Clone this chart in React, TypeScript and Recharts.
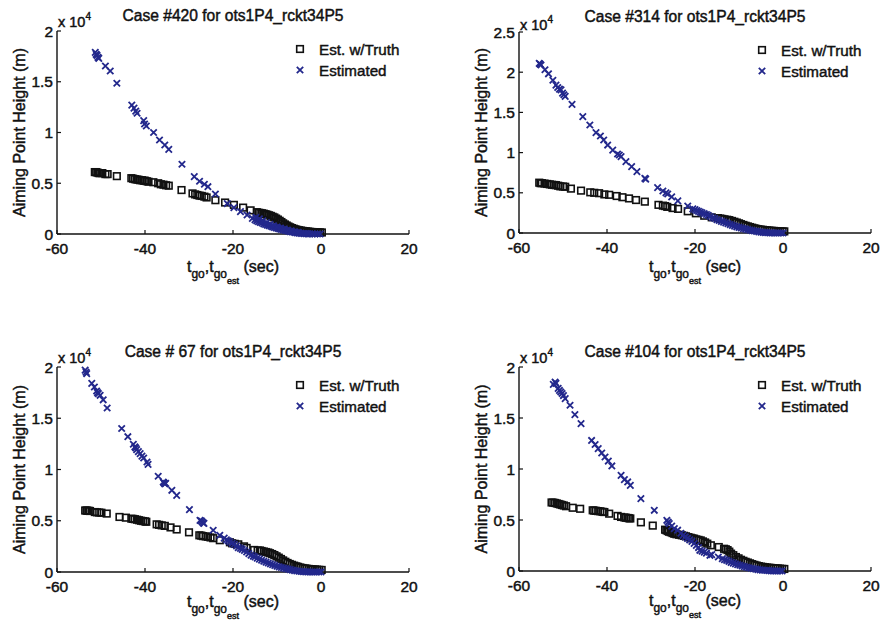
import { ScatterChart, Scatter, XAxis, YAxis } from 'recharts';

// time-to-go (s) vs aiming point height, heights in units of 1e4 m (axis shows "x 10^4")
const X_TICKS = [-60, -40, -20, 0, 20];
const Y_TICKS_20 = [0, 0.5, 1, 1.5, 2];
const Y_TICKS_25 = [0, 0.5, 1, 1.5, 2, 2.5];

const case420Truth = [
  [-51.4, 0.61], [-51.1, 0.61], [-50.8, 0.605], [-50.5, 0.6], [-50.2, 0.6], [-49.7, 0.6], [-49.0, 0.59], [-48.5, 0.59],
  [-46.4, 0.57], [-43.1, 0.55], [-42.7, 0.545], [-42.3, 0.54], [-41.9, 0.537], [-41.5, 0.535], [-41.1, 0.53], [-40.7, 0.53],
  [-40.3, 0.525], [-40.0, 0.525], [-39.6, 0.52], [-39.2, 0.515], [-38.1, 0.51], [-37.0, 0.5], [-36.4, 0.49], [-35.8, 0.486],
  [-35.2, 0.48], [-34.6, 0.476], [-31.7, 0.433], [-29.2, 0.4], [-28.6, 0.39], [-28.1, 0.384], [-27.6, 0.378], [-27.1, 0.375],
  [-26.5, 0.368], [-26.0, 0.36], [-24.0, 0.333], [-21.8, 0.31], [-19.8, 0.287], [-17.7, 0.26], [-16.0, 0.233], [-14.6, 0.215],
  [-14.2, 0.21], [-13.8, 0.207], [-13.4, 0.204], [-13.0, 0.2], [-12.6, 0.195], [-12.2, 0.19], [-11.8, 0.184], [-11.4, 0.178],
  [-11.0, 0.17], [-10.6, 0.163], [-10.2, 0.152], [-9.8, 0.142], [-9.4, 0.13], [-9.0, 0.118], [-8.6, 0.105], [-8.2, 0.094],
  [-7.8, 0.084], [-7.4, 0.074], [-7.0, 0.066], [-6.6, 0.058], [-6.2, 0.052], [-5.8, 0.046], [-5.4, 0.041], [-5.0, 0.037],
  [-4.6, 0.034], [-4.2, 0.031], [-3.8, 0.028], [-3.4, 0.026], [-3.0, 0.024], [-2.6, 0.022], [-2.2, 0.02], [-1.8, 0.019],
  [-1.4, 0.018], [-1.0, 0.017], [-0.6, 0.016], [-0.2, 0.016], [0.2, 0.015],
];
const case420Est = [
  [-51.3, 1.79], [-51.1, 1.77], [-50.9, 1.76], [-50.7, 1.74], [-50.5, 1.73], [-49.0, 1.655], [-47.9, 1.606], [-46.4, 1.485],
  [-43.0, 1.27], [-42.5, 1.24], [-42.1, 1.21], [-41.8, 1.19], [-40.3, 1.117], [-40.1, 1.084], [-39.7, 1.064], [-38.05, 1.0],
  [-36.7, 0.926], [-35.5, 0.877], [-34.6, 0.834], [-31.6, 0.687], [-28.8, 0.565], [-27.6, 0.52], [-26.5, 0.49], [-25.7, 0.466],
  [-24.0, 0.394], [-21.3, 0.3], [-19.8, 0.26], [-18.3, 0.22], [-16.8, 0.187], [-15.6, 0.154], [-15.0, 0.14], [-14.6, 0.13],
  [-14.2, 0.122], [-13.8, 0.115], [-13.4, 0.108], [-13.0, 0.1], [-12.6, 0.094], [-12.2, 0.088], [-11.8, 0.082], [-11.4, 0.076],
  [-11.0, 0.07], [-10.6, 0.065], [-10.2, 0.06], [-9.8, 0.055], [-9.4, 0.05], [-9.0, 0.045], [-8.6, 0.04], [-8.2, 0.036],
  [-7.8, 0.032], [-7.4, 0.028], [-7.0, 0.024], [-6.6, 0.02], [-6.2, 0.017], [-5.8, 0.014], [-5.4, 0.011], [-5.0, 0.009],
  [-4.6, 0.007], [-4.2, 0.005], [-3.8, 0.004], [-3.4, 0.003], [-3.0, 0.002], [-2.6, 0.001], [-2.0, 0.001], [-1.4, 0],
  [-0.8, 0], [-0.2, 0], [-14.8, 0.165], [-14.0, 0.15], [-13.2, 0.13], [-12.4, 0.112], [-11.6, 0.095], [-10.8, 0.08],
  [-10.0, 0.068], [-9.2, 0.058], [-8.4, 0.048], [-7.6, 0.038], [-6.8, 0.03], [-6.0, 0.022], [-5.2, 0.016],
];

const case314Truth = [
  [-55.4, 0.626], [-55.1, 0.62], [-54.8, 0.62], [-54.2, 0.615], [-53.6, 0.61], [-53.0, 0.605], [-52.5, 0.6], [-52.0, 0.597],
  [-51.6, 0.595], [-51.1, 0.588], [-50.6, 0.58], [-50.0, 0.578], [-49.5, 0.575], [-48.2, 0.552], [-45.9, 0.527], [-43.8, 0.506],
  [-42.9, 0.5], [-41.8, 0.495], [-40.6, 0.48], [-39.5, 0.475], [-37.8, 0.46], [-36.5, 0.445], [-35.0, 0.43], [-33.4, 0.41],
  [-31.4, 0.39], [-28.3, 0.35], [-27.3, 0.34], [-26.8, 0.335], [-26.3, 0.325], [-25.1, 0.31], [-23.85, 0.3], [-21.65, 0.27],
  [-19.8, 0.245], [-17.9, 0.215], [-16.2, 0.195], [-14.8, 0.185], [-14.25, 0.18], [-13.8, 0.175], [-13.3, 0.17], [-12.7, 0.165],
  [-12.2, 0.16], [-11.6, 0.15], [-11.05, 0.14], [-10.5, 0.13], [-10.0, 0.12], [-9.55, 0.11], [-9.0, 0.1], [-8.5, 0.09],
  [-8.0, 0.082], [-7.5, 0.074], [-7.0, 0.066], [-6.5, 0.058], [-6.1, 0.052], [-5.6, 0.047], [-5.1, 0.043], [-4.6, 0.04],
  [-4.1, 0.036], [-3.6, 0.033], [-3.1, 0.03], [-2.6, 0.028], [-2.1, 0.026], [-1.6, 0.024], [-1.1, 0.022], [-0.6, 0.021],
  [-0.1, 0.02], [0.3, 0.02],
];
const case314Est = [
  [-55.4, 2.11], [-55.2, 2.1], [-55.0, 2.09], [-54.1, 2.03], [-53.3, 1.98], [-52.3, 1.9], [-51.6, 1.84], [-51.2, 1.81],
  [-50.8, 1.79], [-50.45, 1.78], [-50.1, 1.74], [-49.8, 1.72], [-49.5, 1.7], [-47.95, 1.6], [-45.5, 1.447], [-43.9, 1.343],
  [-42.5, 1.248], [-41.5, 1.206], [-40.75, 1.157], [-39.85, 1.094], [-38.7, 1.03], [-37.6, 0.983], [-37.2, 0.97], [-36.8, 0.95],
  [-35.7, 0.887], [-34.4, 0.825], [-33.2, 0.763], [-31.4, 0.68], [-31.2, 0.67], [-28.5, 0.564], [-27.3, 0.522], [-26.6, 0.5],
  [-26.2, 0.485], [-25.3, 0.45], [-23.9, 0.4], [-21.65, 0.336], [-20.5, 0.3], [-20.0, 0.29], [-19.6, 0.28], [-19.2, 0.27],
  [-18.8, 0.26], [-18.4, 0.25], [-17.9, 0.24], [-17.4, 0.23], [-17.0, 0.22], [-16.5, 0.205], [-16.0, 0.19], [-15.5, 0.18],
  [-15.0, 0.165], [-14.5, 0.155], [-14.0, 0.145], [-13.5, 0.135], [-13.0, 0.125], [-12.5, 0.115], [-12.0, 0.105], [-11.5, 0.095],
  [-11.0, 0.085], [-10.5, 0.077], [-10.0, 0.07], [-9.5, 0.062], [-9.0, 0.055], [-8.5, 0.048], [-8.0, 0.042], [-7.5, 0.036],
  [-7.0, 0.03], [-6.5, 0.025], [-6.0, 0.02], [-5.5, 0.015], [-5.0, 0.011], [-4.5, 0.008], [-4.0, 0.005], [-3.5, 0.003],
  [-3.0, 0.002], [-2.5, 0.001], [-2.0, 0], [-1.5, 0], [-1.0, 0], [-0.5, 0], [0, 0],
];

const case67Truth = [
  [-53.6, 0.6], [-53.3, 0.6], [-53.1, 0.597], [-52.8, 0.597], [-52.5, 0.595], [-51.4, 0.585], [-50.9, 0.582], [-50.4, 0.58],
  [-49.9, 0.578], [-48.7, 0.57], [-45.8, 0.537], [-44.35, 0.53], [-43.1, 0.52], [-42.7, 0.518], [-42.3, 0.515], [-41.8, 0.51],
  [-41.35, 0.505], [-40.9, 0.5], [-40.45, 0.497], [-40.0, 0.494], [-39.7, 0.49], [-37.35, 0.465], [-36.8, 0.46], [-36.2, 0.455],
  [-35.5, 0.45], [-34.2, 0.435], [-32.8, 0.415], [-30.0, 0.387], [-27.65, 0.358], [-27.2, 0.355], [-26.8, 0.35], [-26.2, 0.347],
  [-25.7, 0.343], [-25.1, 0.337], [-24.5, 0.33], [-23.0, 0.31], [-20.7, 0.29], [-20.2, 0.28], [-19.6, 0.275], [-18.8, 0.27],
  [-17.5, 0.25], [-16.9, 0.235], [-15.2, 0.215], [-14.4, 0.21], [-13.9, 0.21], [-13.5, 0.205], [-13.0, 0.2], [-12.5, 0.195],
  [-12.0, 0.19], [-11.6, 0.183], [-11.1, 0.175], [-10.6, 0.165], [-10.1, 0.153], [-9.6, 0.14], [-9.1, 0.127], [-8.6, 0.113],
  [-8.1, 0.1], [-7.6, 0.088], [-7.1, 0.078], [-6.6, 0.07], [-6.1, 0.062], [-5.6, 0.055], [-5.2, 0.05], [-4.7, 0.044],
  [-4.2, 0.039], [-3.7, 0.035], [-3.3, 0.033], [-2.8, 0.03], [-2.3, 0.028], [-1.9, 0.026], [-1.4, 0.025], [-0.9, 0.023],
  [-0.4, 0.021], [0.15, 0.02],
];
const case67Est = [
  [-53.6, 1.97], [-53.4, 1.95], [-53.25, 1.935], [-52.1, 1.84], [-51.5, 1.805], [-51.0, 1.766], [-50.8, 1.75], [-50.6, 1.74],
  [-50.2, 1.724], [-49.5, 1.68], [-48.6, 1.6], [-45.3, 1.4], [-43.9, 1.32], [-42.65, 1.246], [-42.3, 1.22], [-42.1, 1.21],
  [-41.9, 1.194], [-41.5, 1.175], [-41.1, 1.155], [-40.7, 1.13], [-40.3, 1.112], [-39.55, 1.073], [-39.3, 1.05], [-37.0, 0.934],
  [-35.85, 0.878], [-35.7, 0.87], [-35.5, 0.86], [-35.3, 0.865], [-33.9, 0.797], [-32.8, 0.748], [-29.9, 0.609], [-27.5, 0.504],
  [-27.2, 0.5], [-27.0, 0.49], [-26.8, 0.48], [-26.6, 0.475], [-24.5, 0.407], [-23.0, 0.358], [-22.0, 0.33], [-21.5, 0.315],
  [-21.1, 0.305], [-20.7, 0.293], [-20.2, 0.28], [-19.7, 0.27], [-19.2, 0.255], [-18.8, 0.238], [-18.3, 0.23], [-17.9, 0.22],
  [-17.4, 0.21], [-16.9, 0.195], [-16.4, 0.18], [-15.9, 0.165], [-15.4, 0.155], [-15.0, 0.146], [-14.5, 0.135], [-14.0, 0.125],
  [-13.5, 0.115], [-13.0, 0.105], [-12.5, 0.096], [-12.0, 0.088], [-11.5, 0.08], [-11.0, 0.072], [-10.5, 0.064], [-10.0, 0.056],
  [-9.5, 0.05], [-9.0, 0.044], [-8.5, 0.038], [-8.0, 0.033], [-7.5, 0.028], [-7.0, 0.023], [-6.5, 0.018], [-6.0, 0.014],
  [-5.5, 0.01], [-5.0, 0.007], [-4.5, 0.005], [-4.0, 0.003], [-3.5, 0.002], [-3.0, 0.001], [-2.5, 0], [-2.0, 0],
  [-1.5, 0], [-1.0, 0], [-0.5, 0], [0, 0],
];

const case104Truth = [
  [-52.6, 0.672], [-52.2, 0.67], [-51.8, 0.667], [-51.4, 0.662], [-51.0, 0.657], [-50.6, 0.652], [-50.2, 0.647], [-49.8, 0.642],
  [-49.3, 0.635], [-47.8, 0.62], [-46.1, 0.61], [-43.25, 0.595], [-42.9, 0.592], [-42.5, 0.59], [-42.0, 0.587], [-41.5, 0.585],
  [-41.0, 0.58], [-40.6, 0.578], [-39.5, 0.562], [-37.6, 0.54], [-36.8, 0.53], [-36.05, 0.525], [-35.7, 0.522], [-35.3, 0.52],
  [-35.0, 0.517], [-34.7, 0.515], [-32.3, 0.477], [-29.6, 0.445], [-26.8, 0.405], [-26.5, 0.4], [-26.2, 0.392], [-25.9, 0.385],
  [-25.5, 0.38], [-25.1, 0.372], [-24.7, 0.365], [-24.2, 0.36], [-23.6, 0.355], [-23.0, 0.35], [-22.5, 0.345], [-22.05, 0.34],
  [-21.5, 0.332], [-21.0, 0.326], [-20.6, 0.32], [-20.2, 0.317], [-19.7, 0.31], [-19.2, 0.305], [-18.7, 0.3], [-18.2, 0.29],
  [-17.7, 0.28], [-17.2, 0.268], [-16.4, 0.252], [-14.6, 0.235], [-13.4, 0.218], [-13.0, 0.213], [-12.6, 0.205], [-12.2, 0.19],
  [-11.8, 0.17], [-11.3, 0.155], [-10.7, 0.137], [-10.1, 0.124], [-9.55, 0.11], [-9.0, 0.1], [-8.5, 0.09], [-8.0, 0.083],
  [-7.5, 0.075], [-7.0, 0.067], [-6.5, 0.06], [-6.0, 0.054], [-5.5, 0.048], [-5.0, 0.043], [-4.6, 0.04], [-4.1, 0.037],
  [-3.6, 0.034], [-3.1, 0.032], [-2.7, 0.03], [-2.2, 0.028], [-1.7, 0.026], [-1.2, 0.025], [-0.7, 0.023], [-0.2, 0.021],
  [0.3, 0.02],
];
const case104Est = [
  [-52.2, 1.83], [-51.8, 1.853], [-51.6, 1.84], [-51.1, 1.79], [-50.8, 1.77], [-50.5, 1.755], [-50.2, 1.74], [-49.9, 1.72],
  [-49.5, 1.69], [-48.4, 1.625], [-47.3, 1.533], [-45.9, 1.445], [-43.5, 1.28], [-42.7, 1.24], [-42.0, 1.2], [-41.2, 1.157],
  [-40.45, 1.118], [-39.7, 1.078], [-38.9, 1.03], [-36.8, 0.938], [-36.05, 0.896], [-35.3, 0.873], [-34.7, 0.84], [-32.3, 0.71],
  [-29.25, 0.595], [-26.4, 0.497], [-26.1, 0.48], [-25.85, 0.464], [-25.3, 0.44], [-24.7, 0.415], [-23.95, 0.4], [-23.2, 0.37],
  [-22.7, 0.35], [-22.2, 0.335], [-21.7, 0.32], [-21.2, 0.305], [-20.7, 0.29], [-20.2, 0.27], [-19.7, 0.25], [-19.2, 0.23],
  [-18.9, 0.203], [-18.4, 0.195], [-17.9, 0.185], [-17.4, 0.175], [-16.6, 0.154], [-16.2, 0.16], [-14.7, 0.137], [-13.8, 0.12],
  [-13.3, 0.112], [-12.8, 0.105], [-12.3, 0.095], [-11.8, 0.085], [-11.3, 0.077], [-10.8, 0.07], [-10.3, 0.063], [-9.8, 0.056],
  [-9.3, 0.049], [-8.8, 0.043], [-8.3, 0.037], [-7.8, 0.032], [-7.3, 0.027], [-6.75, 0.023], [-6.2, 0.018], [-5.7, 0.014],
  [-5.2, 0.011], [-4.7, 0.009], [-4.2, 0.007], [-3.7, 0.005], [-3.2, 0.003], [-2.7, 0.002], [-2.2, 0.001], [-1.7, 0],
  [-1.2, 0], [-0.7, 0], [-0.2, 0],
];

const FONT = '"Liberation Sans", Arial, Helvetica, sans-serif';
const BLUE = '#23288c';
const INK = '#111';
const CHART_W = 420;
const CHART_H = 288;
const PLOT_L = 57;
const PLOT_T = 31;
const PLOT_W = 352;
const XAXIS_H = 30;

const toPoints = (rows: number[][]) => rows.map(([t, h]) => ({ t, h }));

function SquareMark(props: any) {
  const { cx, cy } = props;
  if (cx == null || cy == null) return null;
  return <rect x={cx - 3.3} y={cy - 3.3} width={6.6} height={6.6} fill="none" stroke={INK} strokeWidth={1.6} />;
}

function CrossMark(props: any) {
  const { cx, cy } = props;
  if (cx == null || cy == null) return null;
  const s = 3.2;
  return (
    <path
      d={`M${cx - s},${cy - s}L${cx + s},${cy + s}M${cx - s},${cy + s}L${cx + s},${cy - s}`}
      stroke={BLUE}
      strokeWidth={1.8}
      fill="none"
    />
  );
}

interface PanelProps {
  title: string;
  truth: number[][];
  est: number[][];
  yMax: number;
  yTicks: number[];
  left: number;
  top: number;
  plotH: number;
  xLabelDy: number;
  multDy: number;
}

function CasePanel({ title, truth, est, yMax, yTicks, left, top, plotH, xLabelDy, multDy }: PanelProps) {
  const truthData = toPoints(truth);
  const estData = toPoints(est);
  const tickStyle = { fontSize: 15.5, fill: INK, stroke: INK, strokeWidth: 0.45, fontFamily: FONT };
  const axisLine = { stroke: INK, strokeWidth: 1.4 };
  const tickLine = { stroke: INK, strokeWidth: 1.2 };
  const txt = { fill: INK, stroke: INK, strokeWidth: 0.45 };
  const cx = PLOT_L + PLOT_W / 2;
  const right = PLOT_L + PLOT_W;
  const bottom = PLOT_T + plotH;

  return (
    <div style={{ position: 'absolute', left, top, width: CHART_W, height: CHART_H }}>
      <ScatterChart
        width={CHART_W}
        height={CHART_H}
        margin={{ top: PLOT_T, right: CHART_W - PLOT_L - PLOT_W, bottom: CHART_H - PLOT_T - plotH - XAXIS_H, left: 0 }}
      >
        <XAxis
          xAxisId="b"
          type="number"
          dataKey="t"
          domain={[-60, 20]}
          ticks={X_TICKS}
          interval={0}
          height={XAXIS_H}
          tickSize={-4}
          tickMargin={13}
          tick={tickStyle}
          axisLine={axisLine}
          tickLine={tickLine}
        />
        <XAxis
          xAxisId="top"
          orientation="top"
          type="number"
          dataKey="t"
          domain={[-60, 20]}
          ticks={X_TICKS}
          interval={0}
          height={0}
          tickSize={-4}
          tickFormatter={() => ''}
          axisLine={axisLine}
          tickLine={tickLine}
        />
        <YAxis
          yAxisId="l"
          type="number"
          dataKey="h"
          domain={[0, yMax]}
          ticks={yTicks}
          interval={0}
          width={PLOT_L}
          tickSize={-4}
          tickMargin={8}
          tick={tickStyle}
          axisLine={axisLine}
          tickLine={tickLine}
        />
        <YAxis
          yAxisId="r"
          orientation="right"
          type="number"
          dataKey="h"
          domain={[0, yMax]}
          ticks={yTicks}
          interval={0}
          width={0}
          tickSize={-4}
          tickFormatter={() => ''}
          axisLine={axisLine}
          tickLine={tickLine}
        />
        <Scatter xAxisId="b" yAxisId="l" data={truthData} shape={SquareMark} isAnimationActive={false} />
        <Scatter xAxisId="b" yAxisId="l" data={estData} shape={CrossMark} isAnimationActive={false} />
      </ScatterChart>
      <svg
        width={CHART_W}
        height={CHART_H}
        style={{ position: 'absolute', left: 0, top: 0, pointerEvents: 'none', fontFamily: FONT }}
      >
        <text x={cx} y={PLOT_T - 10} textAnchor="middle" fontSize={15.6} {...txt}>
          {title}
        </text>
        <text x={PLOT_L + 1} y={PLOT_T - multDy} fontSize={14.5} {...txt}>
          x 10<tspan fontSize={10} dy={-7}>4</tspan>
        </text>
        <text
          x={PLOT_L - 32}
          y={PLOT_T + plotH / 2}
          transform={`rotate(-90 ${PLOT_L - 32} ${PLOT_T + plotH / 2})`}
          textAnchor="middle"
          fontSize={16}
          {...txt}
        >
          Aiming Point Height (m)
        </text>
        <text x={cx} y={bottom + xLabelDy} textAnchor="middle" fontSize={16} {...txt}>
          t<tspan fontSize={12} dy={6}>go</tspan>
          <tspan dy={-6}>,t</tspan>
          <tspan fontSize={12} dy={6}>go</tspan>
          <tspan fontSize={9} dy={6}>est</tspan>
          <tspan dy={-12}> (sec)</tspan>
        </text>
        <rect x={right - 112.3} y={PLOT_T + 14.7} width={6.6} height={6.6} fill="none" stroke={INK} strokeWidth={1.6} />
        <text x={right - 90} y={PLOT_T + 23.5} fontSize={15.2} {...txt}>
          Est. w/Truth
        </text>
        <path
          d={`M${right - 112.2},${PLOT_T + 35.8}L${right - 105.8},${PLOT_T + 42.2}M${right - 112.2},${PLOT_T + 42.2}L${right - 105.8},${PLOT_T + 35.8}`}
          stroke={BLUE}
          strokeWidth={1.8}
        />
        <text x={right - 90} y={PLOT_T + 44.5} fontSize={15.2} {...txt}>
          Estimated
        </text>
      </svg>
    </div>
  );
}

export default function App() {
  return (
    <div
      style={{
        position: 'absolute',
        left: 0,
        top: 0,
        width: 882,
        height: 624,
        background: '#fff',
        overflow: 'hidden',
      }}
    >
      <CasePanel
        title="Case #420 for ots1P4_rckt34P5"
        truth={case420Truth}
        est={case420Est}
        yMax={2}
        yTicks={Y_TICKS_20}
        left={0}
        top={0}
        plotH={203}
        xLabelDy={38}
        multDy={4}
      />
      <CasePanel
        title="Case #314 for ots1P4_rckt34P5"
        truth={case314Truth}
        est={case314Est}
        yMax={2.5}
        yTicks={Y_TICKS_25}
        left={462}
        top={1}
        plotH={201}
        xLabelDy={39}
        multDy={2}
      />
      <CasePanel
        title="Case # 67 for ots1P4_rckt34P5"
        truth={case67Truth}
        est={case67Est}
        yMax={2}
        yTicks={Y_TICKS_20}
        left={0}
        top={336}
        plotH={205}
        xLabelDy={35}
        multDy={4}
      />
      <CasePanel
        title="Case #104 for ots1P4_rckt34P5"
        truth={case104Truth}
        est={case104Est}
        yMax={2}
        yTicks={Y_TICKS_20}
        left={462}
        top={336}
        plotH={204}
        xLabelDy={35}
        multDy={4}
      />
    </div>
  );
}
